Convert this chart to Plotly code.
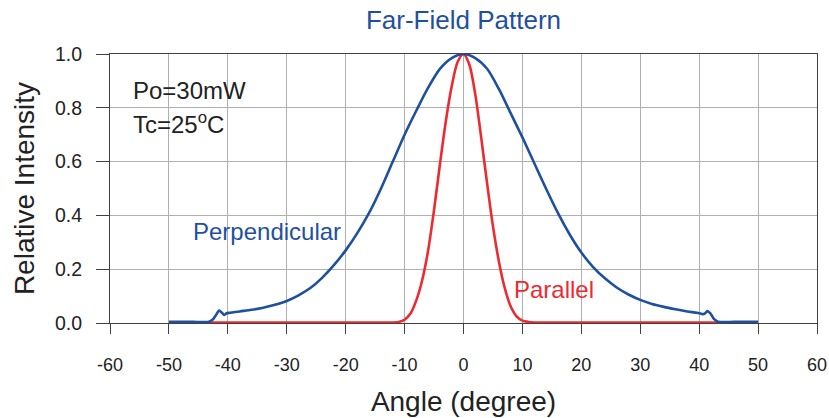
import plotly.graph_objects as go

# ---- data ----
perp_x = [-50, -46, -43.2, -42.6, -42.0, -41.5, -41.0, -40.6, -40.2, -39.6, -38, -36, -34, -32, -30,
          -28, -26, -24, -22, -20, -18, -16, -14, -12, -10, -8, -6, -4, -2, 0,
          2, 4, 6, 8, 10, 12, 14, 16, 18, 20, 22, 24, 26, 28, 30, 32, 34, 36, 38,
          39.6, 40.2, 40.6, 41.0, 41.4, 41.9, 42.5, 43.2, 46, 50]
perp_y = [0.004, 0.004, 0.005, 0.012, 0.030, 0.046, 0.038, 0.030, 0.036, 0.038, 0.043, 0.049, 0.057, 0.068, 0.082,
          0.103, 0.130, 0.168, 0.215, 0.270, 0.335, 0.410, 0.500, 0.600, 0.700, 0.790, 0.875, 0.945, 0.985, 1.0,
          0.985, 0.945, 0.870, 0.780, 0.690, 0.595, 0.500, 0.410, 0.330, 0.262, 0.208, 0.166, 0.132, 0.106, 0.086,
          0.071, 0.060, 0.051, 0.043,
          0.038, 0.035, 0.033, 0.036, 0.044, 0.036, 0.015, 0.005, 0.004, 0.004]

par_x = [-50, -20, -12, -11, -10, -9, -8, -7, -6, -5, -4, -3, -2, -1, 0,
         1, 2, 3, 4, 5, 6, 7, 8, 9, 10, 11, 12, 20, 50]
par_y = [0.002, 0.002, 0.002, 0.004, 0.012, 0.035, 0.085, 0.16, 0.27, 0.42, 0.59, 0.75, 0.88, 0.97, 1.0,
         0.96, 0.85, 0.69, 0.52, 0.36, 0.23, 0.13, 0.062, 0.025, 0.009, 0.004, 0.002, 0.002, 0.002]

x_ticks = [-60, -50, -40, -30, -20, -10, 0, 10, 20, 30, 40, 50, 60]
y_ticks = [0.0, 0.2, 0.4, 0.6, 0.8, 1.0]

BLUE = "#1f50a0"
RED = "#ee2a31"
FONT = "Liberation Sans, Arial, sans-serif"

W, H = 829, 418

fig = go.Figure()
fig.add_trace(go.Scatter(x=par_x, y=par_y, mode="lines", line=dict(color=RED, width=2.6, shape="spline", smoothing=0.8),
                         cliponaxis=False, name="Parallel"))
fig.add_trace(go.Scatter(x=perp_x, y=perp_y, mode="lines", line=dict(color=BLUE, width=2.6, shape="spline", smoothing=0.8),
                         cliponaxis=False, name="Perpendicular"))

fig.update_layout(
    width=W, height=H, autosize=False,
    margin=dict(l=110, r=12, t=54, b=95),
    paper_bgcolor="white", plot_bgcolor="white",
    showlegend=False,
    font=dict(family=FONT, color="#222222"),
    title=dict(text="Far-Field Pattern", x=0.5, xref="paper", y=1 - 20 / H, yref="container", yanchor="middle",
               automargin=False, font=dict(size=26, color=BLUE, family=FONT)),
)

fig.update_xaxes(
    range=[-60, 60], tickvals=x_ticks, ticktext=[str(v) for v in x_ticks],
    automargin=False,
    showgrid=True, gridcolor="#b0b0b0", gridwidth=1,
    showline=True, linecolor="#404040", linewidth=1.2, mirror=True,
    ticks="outside", ticklen=10, tickcolor="#404040", tickwidth=1,
    tickfont=dict(size=18, color="#222222"), ticklabelstandoff=15,
    zeroline=False,
    title=dict(text="Angle (degree)", font=dict(size=28, color="#222222"), standoff=17),
)
fig.update_yaxes(
    range=[0, 1.0], tickvals=y_ticks, ticktext=[f"{v:.1f}" for v in y_ticks],
    automargin=False,
    showgrid=True, gridcolor="#b0b0b0", gridwidth=1,
    showline=True, linecolor="#404040", linewidth=1.2, mirror=True,
    ticks="outside", ticklen=13, tickcolor="#404040", tickwidth=1,
    tickfont=dict(size=19.5, color="#222222"), ticklabelstandoff=10,
    zeroline=False,
    title=dict(text="Relative Intensity", font=dict(size=28, color="#222222"), standoff=12),
)

annots = [
    dict(text="Po=30mW", x=-56.4, y=0.864, color="#222222"),
    dict(text="Tc=25<sup>o</sup>C", x=-56.4, y=0.745, color="#222222"),
    dict(text="Perpendicular", x=-46.3, y=0.342, color=BLUE),
    dict(text="Parallel", x=8.2, y=0.123, color=RED),
]
for a in annots:
    fig.add_annotation(text=a["text"], x=a["x"], y=a["y"], xref="x", yref="y",
                       xanchor="left", yanchor="middle", showarrow=False,
                       font=dict(size=24, color=a["color"], family=FONT))

post = ("document.documentElement.style.margin='0';document.documentElement.style.overflow='hidden';"
        "document.body.style.margin='0';document.body.style.padding='0';document.body.style.overflow='hidden';"
        "var gd=document.getElementById('{plot_id}');"
        "Plotly.relayout(gd,{width:829,height:418});")
fig.write_html("out.html", config={"responsive": False, "displayModeBar": False}, post_script=post,
               default_width=f"{W}px", default_height=f"{H}px")
